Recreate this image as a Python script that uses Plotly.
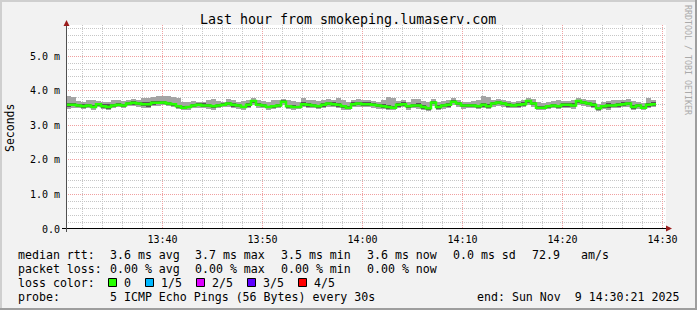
import plotly.graph_objects as go
import pandas as pd

# ---------------- data (ms) ----------------
median_ms = [
    3.59, 3.59, 3.57, 3.55, 3.57, 3.53, 3.61, 3.55, 3.53, 3.57, 3.59, 3.57, 3.63, 3.65, 3.63, 3.61, 3.61, 3.65, 3.65, 3.66,
    3.63, 3.61, 3.55, 3.51, 3.53, 3.57, 3.59, 3.57, 3.57, 3.55, 3.57, 3.59, 3.63, 3.59, 3.57, 3.53, 3.59, 3.70, 3.59, 3.57,
    3.53, 3.55, 3.57, 3.68, 3.55, 3.53, 3.53, 3.61, 3.59, 3.57, 3.55, 3.59, 3.63, 3.61, 3.59, 3.55, 3.51, 3.61, 3.63, 3.61,
    3.61, 3.59, 3.57, 3.55, 3.53, 3.51, 3.59, 3.61, 3.55, 3.57, 3.57, 3.53, 3.49, 3.66, 3.53, 3.57, 3.59, 3.68, 3.63, 3.57,
    3.57, 3.57, 3.55, 3.59, 3.55, 3.63, 3.66, 3.63, 3.59, 3.57, 3.59, 3.61, 3.70, 3.63, 3.51, 3.51, 3.55, 3.57, 3.55, 3.59,
    3.59, 3.57, 3.70, 3.66, 3.63, 3.59, 3.49, 3.55, 3.57, 3.57, 3.59, 3.61, 3.63, 3.53, 3.57, 3.51, 3.59, 3.61,
]
ping_max = [
    3.84, 3.82, 3.70, 3.68, 3.72, 3.74, 3.70, 3.66, 3.68, 3.74, 3.72, 3.70, 3.72, 3.76, 3.74, 3.80, 3.80, 3.82, 3.84, 3.84,
    3.84, 3.82, 3.78, 3.66, 3.68, 3.70, 3.66, 3.68, 3.72, 3.76, 3.70, 3.68, 3.76, 3.72, 3.68, 3.70, 3.72, 3.78, 3.74, 3.70,
    3.66, 3.72, 3.74, 3.76, 3.72, 3.70, 3.68, 3.78, 3.74, 3.72, 3.70, 3.74, 3.76, 3.74, 3.80, 3.72, 3.66, 3.72, 3.76, 3.74,
    3.72, 3.70, 3.68, 3.74, 3.82, 3.80, 3.70, 3.72, 3.68, 3.76, 3.76, 3.70, 3.66, 3.76, 3.68, 3.70, 3.74, 3.78, 3.74, 3.68,
    3.68, 3.70, 3.72, 3.84, 3.82, 3.74, 3.76, 3.72, 3.70, 3.68, 3.70, 3.72, 3.80, 3.76, 3.66, 3.64, 3.68, 3.70, 3.72, 3.70,
    3.70, 3.72, 3.78, 3.76, 3.74, 3.72, 3.62, 3.68, 3.70, 3.72, 3.74, 3.72, 3.76, 3.70, 3.68, 3.64, 3.78, 3.74,
]
ping_min = [
    3.47, 3.50, 3.49, 3.46, 3.49, 3.45, 3.52, 3.47, 3.45, 3.50, 3.52, 3.50, 3.55, 3.55, 3.52, 3.50, 3.49, 3.55, 3.56, 3.58,
    3.55, 3.52, 3.47, 3.43, 3.45, 3.49, 3.50, 3.49, 3.48, 3.44, 3.49, 3.52, 3.53, 3.50, 3.48, 3.44, 3.50, 3.58, 3.50, 3.49,
    3.45, 3.47, 3.49, 3.58, 3.46, 3.44, 3.46, 3.52, 3.50, 3.49, 3.46, 3.50, 3.53, 3.52, 3.50, 3.45, 3.43, 3.52, 3.53, 3.52,
    3.52, 3.50, 3.48, 3.47, 3.44, 3.43, 3.50, 3.52, 3.45, 3.49, 3.48, 3.44, 3.42, 3.56, 3.44, 3.48, 3.50, 3.59, 3.54, 3.48,
    3.49, 3.49, 3.46, 3.50, 3.46, 3.54, 3.57, 3.54, 3.50, 3.49, 3.50, 3.52, 3.60, 3.54, 3.44, 3.44, 3.47, 3.49, 3.46, 3.50,
    3.50, 3.48, 3.60, 3.56, 3.53, 3.50, 3.42, 3.46, 3.45, 3.49, 3.50, 3.52, 3.54, 3.44, 3.48, 3.43, 3.50, 3.52,
]
ping_lo = [
    3.54, 3.55, 3.53, 3.50, 3.53, 3.49, 3.57, 3.50, 3.48, 3.53, 3.55, 3.53, 3.59, 3.60, 3.58, 3.56, 3.54, 3.60, 3.61, 3.62,
    3.59, 3.57, 3.51, 3.47, 3.49, 3.53, 3.55, 3.52, 3.52, 3.50, 3.53, 3.55, 3.58, 3.54, 3.52, 3.49, 3.54, 3.64, 3.55, 3.53,
    3.49, 3.51, 3.53, 3.63, 3.51, 3.49, 3.49, 3.56, 3.54, 3.52, 3.50, 3.54, 3.58, 3.56, 3.54, 3.50, 3.47, 3.56, 3.58, 3.56,
    3.56, 3.55, 3.52, 3.50, 3.48, 3.47, 3.54, 3.56, 3.50, 3.53, 3.52, 3.48, 3.45, 3.61, 3.48, 3.53, 3.54, 3.63, 3.58, 3.53,
    3.53, 3.52, 3.50, 3.54, 3.50, 3.58, 3.61, 3.58, 3.54, 3.53, 3.54, 3.56, 3.65, 3.58, 3.47, 3.47, 3.50, 3.53, 3.50, 3.54,
    3.54, 3.52, 3.65, 3.61, 3.58, 3.54, 3.45, 3.50, 3.51, 3.53, 3.54, 3.56, 3.58, 3.48, 3.52, 3.47, 3.54, 3.56,
]
ping_hi = [
    3.64, 3.63, 3.61, 3.62, 3.61, 3.58, 3.65, 3.62, 3.61, 3.61, 3.63, 3.61, 3.67, 3.70, 3.67, 3.66, 3.68, 3.69, 3.70, 3.70,
    3.67, 3.65, 3.59, 3.55, 3.57, 3.61, 3.63, 3.64, 3.62, 3.60, 3.61, 3.63, 3.68, 3.64, 3.61, 3.57, 3.64, 3.74, 3.63, 3.61,
    3.57, 3.60, 3.62, 3.72, 3.59, 3.58, 3.57, 3.66, 3.64, 3.62, 3.60, 3.63, 3.68, 3.66, 3.64, 3.60, 3.55, 3.66, 3.68, 3.66,
    3.66, 3.64, 3.62, 3.61, 3.60, 3.56, 3.64, 3.66, 3.60, 3.62, 3.63, 3.58, 3.54, 3.70, 3.59, 3.62, 3.64, 3.72, 3.68, 3.62,
    3.61, 3.62, 3.60, 3.64, 3.62, 3.68, 3.70, 3.68, 3.64, 3.61, 3.63, 3.66, 3.74, 3.68, 3.56, 3.55, 3.60, 3.62, 3.60, 3.64,
    3.65, 3.63, 3.74, 3.71, 3.68, 3.64, 3.53, 3.60, 3.63, 3.62, 3.64, 3.66, 3.68, 3.58, 3.61, 3.55, 3.65, 3.67,
]

y_tick_vals = [0, 1, 2, 3, 4, 5]
y_tick_text = ["0.0", "1.0 m", "2.0 m", "3.0 m", "4.0 m", "5.0 m"]
x_tick_text = ["13:40", "13:50", "14:00", "14:10", "14:20", "14:30"]

title_text = "Last hour from smokeping.lumaserv.com"
rtt_stats = ["3.6 ms avg", "3.7 ms max", "3.5 ms min", "3.6 ms now", "0.0 ms sd", "72.9", "am/s"]
loss_stats = ["0.00 % avg", "0.00 % max", "0.00 % min", "0.00 % now"]
loss_labels = ["0", "1/5", "2/5", "3/5", "4/5"]
loss_colors = ["#26ff00", "#00b8ff", "#dd00ff", "#5e00ff", "#ff0000"]
probe_text = "5 ICMP Echo Pings (56 Bytes) every 30s"
end_text = "end: Sun Nov\u00a0\u00a09 14:30:21 2025"

# ---------------- geometry ----------------
W, H = 697, 310
ML, MR, MT, MB = 66, 31, 25, 81
PW = W - ML - MR
PH = H - MT - MB
FONT = "DejaVu Sans Mono"


def px(x):
    return (x - ML) / PW


def py(y):
    return (MT + PH - y) / PH


t0 = pd.Timestamp("2025-11-09 13:30:21")
t1 = pd.Timestamp("2025-11-09 14:30:21")
step = pd.Timedelta(seconds=30)
n = len(median_ms)
t_start = pd.date_range(t0, periods=n, freq="30s")
t_center = t_start + step / 2
x_ticks = [pd.Timestamp("2025-11-09 " + s) for s in x_tick_text]

fig = go.Figure()

# outer smoke (light)
fig.add_trace(go.Bar(
    x=t_center, y=[a - b for a, b in zip(ping_max, ping_min)], base=ping_min,
    width=30000, marker=dict(color="#a4a4a4", line=dict(width=0)),
    hoverinfo="skip", showlegend=False))
# inner smoke (dark)
fig.add_trace(go.Bar(
    x=t_center, y=[a - b for a, b in zip(ping_hi, ping_lo)], base=ping_lo,
    width=30000, marker=dict(color="#555555", line=dict(width=0)),
    hoverinfo="skip", showlegend=False))
# median line
fig.add_trace(go.Scatter(
    x=list(t_start) + [t_start[-1] + step], y=median_ms + [median_ms[-1]],
    mode="lines", line=dict(color=loss_colors[0], width=2.5, shape="hv"),
    hoverinfo="skip", showlegend=False))

shapes = []
# frame
shapes.append(dict(type="rect", xref="paper", yref="paper", x0=px(0), x1=px(2), y0=py(H), y1=py(0),
                   fillcolor="#cfcfcf", line=dict(width=0), layer="above"))
shapes.append(dict(type="rect", xref="paper", yref="paper", x0=px(0), x1=px(W), y0=py(2), y1=py(0),
                   fillcolor="#cfcfcf", line=dict(width=0), layer="above"))
shapes.append(dict(type="rect", xref="paper", yref="paper", x0=px(W - 2), x1=px(W), y0=py(H), y1=py(0),
                   fillcolor="#9e9e9e", line=dict(width=0), layer="above"))
shapes.append(dict(type="rect", xref="paper", yref="paper", x0=px(0), x1=px(W), y0=py(H), y1=py(H - 2),
                   fillcolor="#9e9e9e", line=dict(width=0), layer="above"))
# axes
shapes.append(dict(type="line", xref="paper", yref="paper", x0=px(62), x1=px(667), y0=py(228.5), y1=py(228.5),
                   line=dict(color="#000000", width=1), layer="above"))
shapes.append(dict(type="line", xref="paper", yref="paper", x0=px(66.5), x1=px(66.5), y0=py(232), y1=py(24),
                   line=dict(color="#505050", width=1), layer="above"))
# arrows
shapes.append(dict(type="path", xref="paper", yref="paper",
                   path=f"M {px(666)} {py(225.5)} L {px(672)} {py(228.5)} L {px(666)} {py(231.5)} Z",
                   fillcolor="#9b1c1c", line=dict(width=0), layer="above"))
shapes.append(dict(type="path", xref="paper", yref="paper",
                   path=f"M {px(63.5)} {py(26)} L {px(66.5)} {py(20)} L {px(69.5)} {py(26)} Z",
                   fillcolor="#9b1c1c", line=dict(width=0), layer="above"))
# loss colour boxes
box_x = [108, 145, 196, 247, 298]
for bx, col in zip(box_x, loss_colors):
    shapes.append(dict(type="rect", xref="paper", yref="paper",
                       x0=px(bx + 0.5), x1=px(bx + 8.5), y0=py(286.5), y1=py(278.5),
                       fillcolor=col, line=dict(color="#000000", width=1), layer="above"))

ann = []


def text(x, y, s, size=11.6, anchor="left", color="#000000", angle=0):
    ann.append(dict(x=px(x), y=py(y), xref="paper", yref="paper", text=s, showarrow=False,
                    xanchor=anchor, yanchor="middle", textangle=angle,
                    font=dict(family=FONT, size=size, color=color)))


text(348, 19, title_text, size=13.3, anchor="center")
text(10, 128, "Seconds", size=11.5, anchor="center", angle=-90)
text(688, 60, "RRDTOOL / TOBI OETIKER", size=8.3, anchor="center", color="#aaaaaa", angle=90)

r1, r2, r3, r4 = 254.5, 268.5, 282.5, 296.5
text(16, r1, "median rtt:")
for x, s in zip([108, 193, 279, 365, 451, 530, 579], rtt_stats):
    text(x, r1, s)
text(16, r2, "packet loss:")
for x, s in zip([108, 193, 279, 365], loss_stats):
    text(x, r2, s)
text(16, r3, "loss color:")
for x, s in zip([122, 159, 210, 261, 312], loss_labels):
    text(x, r3, s)
text(16, r4, "probe:")
text(108, r4, probe_text)
text(681, r4, end_text, anchor="right")

fig.update_layout(
    width=W, height=H, margin=dict(l=ML, r=MR, t=MT, b=MB, pad=0),
    paper_bgcolor="#f2f2f2", plot_bgcolor="#ffffff",
    barmode="overlay", bargap=0, showlegend=False,
    shapes=shapes, annotations=ann,
    font=dict(family=FONT, size=10, color="#000000"),
    xaxis=dict(type="date", range=[t0, t1], tickvals=x_ticks, ticktext=x_tick_text,
               showgrid=True, gridcolor="#f0a0a0", griddash="1px,1px", gridwidth=1,
               minor=dict(dtick=120000, tick0="2025-11-09 13:30:00", showgrid=True,
                          gridcolor="#c6c6c6", griddash="1px,1px", gridwidth=1),
               showline=False, zeroline=False, ticks="", ticklabelstandoff=3,
               tickfont=dict(family=FONT, size=10, color="#000000"), fixedrange=True),
    yaxis=dict(range=[0, 5.9], tickvals=y_tick_vals, ticktext=y_tick_text,
               showgrid=True, gridcolor="#f0a0a0", griddash="1px,1px", gridwidth=1,
               minor=dict(dtick=0.2, tick0=0, showgrid=True, gridcolor="#c6c6c6",
                          griddash="1px,1px", gridwidth=1),
               showline=False, zeroline=False, ticks="", ticklabelstandoff=5,
               tickfont=dict(family=FONT, size=10, color="#000000"), fixedrange=True),
)

fig.write_html("out.html", config={"displayModeBar": False})
